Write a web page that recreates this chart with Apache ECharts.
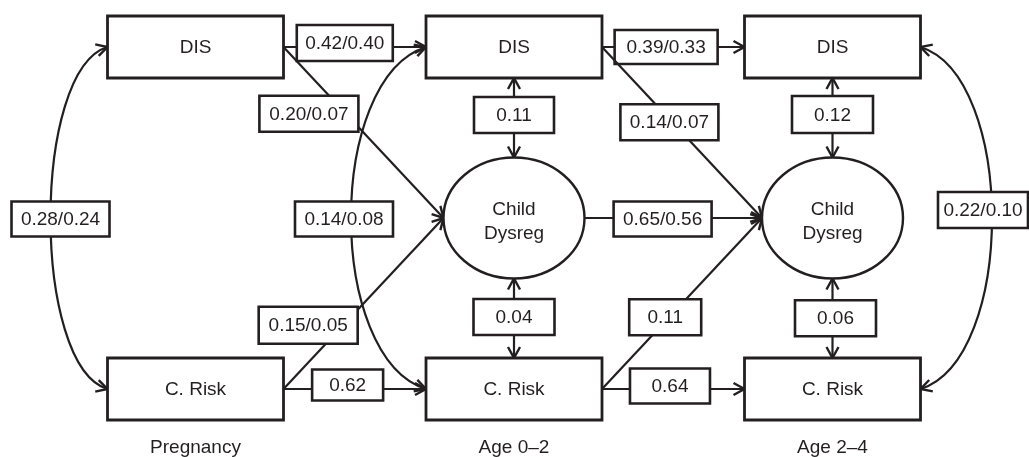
<!DOCTYPE html>
<html><head><meta charset="utf-8">
<script src="https://cdn.jsdelivr.net/npm/echarts@6/dist/echarts.min.js"></script>
<style>html,body{margin:0;padding:0;background:#fff;}#chart{width:1029px;height:457px;}</style>
</head><body><div id="chart"></div>
<script>
// ---------- data ----------
const periods = ['Pregnancy', 'Age 0–2', 'Age 2–4'];
const constructs = ['DIS', 'Child Dysreg', 'C. Risk'];
const nodeIds = ['DIS0', 'DIS1', 'DIS2', 'DYS1', 'DYS2', 'CR0', 'CR1', 'CR2'];
const nodePeriod = [0, 1, 2, 1, 2, 0, 1, 2];
const nodeConstruct = [0, 0, 0, 1, 1, 2, 2, 2];
const nodeLabels = ['DIS', 'DIS', 'DIS', 'Child\nDysreg', 'Child\nDysreg', 'C. Risk', 'C. Risk', 'C. Risk'];
// directed (cross-lagged / stability) paths
const pathFrom = ['DIS0', 'DIS0', 'CR0', 'CR0', 'DIS1', 'DIS1', 'DYS1', 'CR1', 'CR1'];
const pathTo = ['DIS1', 'DYS1', 'DYS1', 'CR1', 'DIS2', 'DYS2', 'DYS2', 'DYS2', 'CR2'];
const pathCoef = ['0.42/0.40', '0.20/0.07', '0.15/0.05', '0.62', '0.39/0.33', '0.14/0.07', '0.65/0.56', '0.11', '0.64'];
// within-time covariances (double-headed)
const covFrom = ['DIS1', 'DYS1', 'DIS2', 'DYS2', 'DIS0', 'DIS1', 'DIS2'];
const covTo = ['DYS1', 'CR1', 'DYS2', 'CR2', 'CR0', 'CR1', 'CR2'];
const covCoef = ['0.11', '0.04', '0.12', '0.06', '0.28/0.24', '0.14/0.08', '0.22/0.10'];

// ---------- layout / style (not data) ----------
const INK = '#231f20';
const FONT = '"Liberation Sans", Arial, sans-serif';
const BOX_W = 176, BOX_H = 62, ELL_RX = 70.5, ELL_RY = 60.5;
const pathLabelT = [0.43, 0.39, 0.373, 0.45, 0.45, 0.44, 0.44, 0.42, 0.477];
const pathLabelDx = [0, -37, -35, 0, 0, -3, 0, -4, 0];
const pathLabelDy = [-4, 0, 0, -4, 0, 0, 1, 0, -3];
const pathLabelW = [96, 99, 99, 71, 103, 98, 98, 72, 80];
const pathLabelH = [36, 36, 37, 31, 34, 36, 35, 36, 35];
const covLabelT = [0.465, 0.485, 0.46, 0.5, 0.5, 0.5, 0.5];
const covLabelDx = [0, 0, 0, 3, 10, -7, -9];
const covLabelDy = [0, 0, 0, 0, 1, 1, -8];
const covLabelW = [80, 81, 81, 81, 98, 98, 90];
const covLabelH = [36, 36, 37, 36, 35, 35, 36];
const arcBulge = [0, 0, 0, 0, 57, 75, 71.5];
const arcTangent = [0, 0, 0, 0, 23, 32, 30];

function nodeInfo(id) { const i = nodeIds.indexOf(id); return { p: nodePeriod[i], c: nodeConstruct[i] }; }
function anchor(pt, construct, side) {
  const ell = construct === 1;
  const hw = ell ? ELL_RX : BOX_W / 2, hh = ell ? ELL_RY : BOX_H / 2;
  if (side === 'left') return [pt[0] - hw, pt[1]];
  if (side === 'right') return [pt[0] + hw, pt[1]];
  if (side === 'top') return [pt[0], pt[1] - hh];
  return [pt[0], pt[1] + hh];
}
function arrowHead(tip, dir) {
  const len = Math.hypot(dir[0], dir[1]);
  const ux = dir[0] / len, uy = dir[1] / len;
  const L = 11, W = 6;
  return {
    type: 'polyline',
    shape: { points: [[tip[0] - ux * L - uy * W, tip[1] - uy * L + ux * W], tip, [tip[0] - ux * L + uy * W, tip[1] - uy * L - ux * W]] },
    style: { stroke: INK, lineWidth: 2.4, fill: null, lineJoin: 'miter' }
  };
}
function labelBox(cx, cy, w, h, text) {
  return [
    { type: 'rect', shape: { x: cx - w / 2, y: cy - h / 2, width: w, height: h },
      style: { fill: '#fff', stroke: INK, lineWidth: 2.6 } },
    { type: 'text', x: cx, y: cy + 1,
      style: { text: text, align: 'center', verticalAlign: 'middle', fontSize: 19, fontFamily: FONT, fill: INK } }
  ];
}

const nodeData = nodeIds.map((id, i) => [nodePeriod[i], nodeConstruct[i], i]);
const pathData = pathFrom.map((f, i) => { const a = nodeInfo(f), b = nodeInfo(pathTo[i]); return [a.p, a.c, b.p, b.c, i]; });
const covData = covFrom.map((f, i) => { const a = nodeInfo(f), b = nodeInfo(covTo[i]); return [a.p, a.c, b.p, b.c, i]; });

function renderNode(params, api) {
  const i = api.value(2);
  const c = api.coord([api.value(0), api.value(1)]);
  const ell = api.value(1) === 1;
  const shape = ell
    ? { type: 'ellipse', shape: { cx: c[0], cy: c[1], rx: ELL_RX, ry: ELL_RY }, style: { fill: '#fff', stroke: INK, lineWidth: 2.4 } }
    : { type: 'rect', shape: { x: c[0] - BOX_W / 2, y: c[1] - BOX_H / 2, width: BOX_W, height: BOX_H }, style: { fill: '#fff', stroke: INK, lineWidth: 2.8 } };
  return { type: 'group', children: [shape, {
    type: 'text', x: c[0], y: c[1] + (ell ? 4 : 1),
    style: { text: nodeLabels[i], align: 'center', verticalAlign: 'middle', fontSize: 19, lineHeight: 24, fontFamily: FONT, fill: INK }
  }] };
}

function renderPath(params, api) {
  const i = api.value(4);
  const s = api.coord([api.value(0), api.value(1)]);
  const t = api.coord([api.value(2), api.value(3)]);
  const p0 = anchor(s, api.value(1), 'right');
  const p1 = anchor(t, api.value(3), 'left');
  const T = pathLabelT[i];
  const lx = p0[0] + (p1[0] - p0[0]) * T + pathLabelDx[i];
  const ly = p0[1] + (p1[1] - p0[1]) * T + pathLabelDy[i];
  return { type: 'group', children: [
    { type: 'line', shape: { x1: p0[0], y1: p0[1], x2: p1[0], y2: p1[1] }, style: { stroke: INK, lineWidth: 2.2 } },
    arrowHead(p1, [p1[0] - p0[0], p1[1] - p0[1]])
  ].concat(labelBox(lx, ly, pathLabelW[i], pathLabelH[i], pathCoef[i])) };
}

function renderCov(params, api) {
  const i = api.value(4);
  const sc = api.value(1), tc = api.value(3), per = api.value(0);
  const s = api.coord([per, sc]);
  const t = api.coord([api.value(2), tc]);
  const children = [];
  let lx, ly;
  if (Math.abs(tc - sc) === 1) {
    const p0 = anchor(s, sc, 'bottom'), p1 = anchor(t, tc, 'top');
    children.push({ type: 'line', shape: { x1: p0[0], y1: p0[1], x2: p1[0], y2: p1[1] }, style: { stroke: INK, lineWidth: 2.2 } });
    children.push(arrowHead(p1, [0, 1]), arrowHead(p0, [0, -1]));
    lx = p0[0] + (p1[0] - p0[0]) * covLabelT[i];
    ly = p0[1] + (p1[1] - p0[1]) * covLabelT[i];
  } else {
    const side = per === periods.length - 1 ? 'right' : 'left';
    const sg = side === 'right' ? 1 : -1;
    const p0 = anchor(s, sc, side), p3 = anchor(t, tc, side);
    const k = arcBulge[i] / 0.75, d = arcTangent[i];
    const c1 = [p0[0] + sg * k, p0[1] + d], c2 = [p3[0] + sg * k, p3[1] - d];
    children.push({ type: 'bezierCurve', shape: { x1: p0[0], y1: p0[1], x2: p3[0], y2: p3[1], cpx1: c1[0], cpy1: c1[1], cpx2: c2[0], cpy2: c2[1] },
      style: { stroke: INK, lineWidth: 2.2, fill: null } });
    children.push(arrowHead(p0, [p0[0] - c1[0], p0[1] - c1[1]]), arrowHead(p3, [p3[0] - c2[0], p3[1] - c2[1]]));
    lx = p0[0] + sg * arcBulge[i];
    ly = (p0[1] + p3[1]) / 2;
  }
  return { type: 'group', children: children.concat(labelBox(lx + covLabelDx[i], ly + covLabelDy[i], covLabelW[i], covLabelH[i], covCoef[i])) };
}

const chart = echarts.init(document.getElementById('chart'), null, { renderer: 'canvas' });
chart.setOption({
  backgroundColor: '#fff',
  animation: false,
  grid: { left: 195.5, top: 47, width: 637, height: 342 },
  xAxis: {
    type: 'category', data: periods, boundaryGap: false,
    axisLine: { show: false }, axisTick: { show: false }, splitLine: { show: false },
    axisLabel: { margin: 49, fontSize: 19, fontFamily: FONT, color: INK }
  },
  yAxis: { type: 'category', data: constructs, boundaryGap: false, inverse: true, show: false },
  series: [
    { type: 'custom', name: 'paths', data: pathData, renderItem: renderPath, clip: false, z: 2, encode: { x: [0, 2], y: [1, 3] } },
    { type: 'custom', name: 'covariances', data: covData, renderItem: renderCov, clip: false, z: 2, encode: { x: [0, 2], y: [1, 3] } },
    { type: 'custom', name: 'variables', data: nodeData, renderItem: renderNode, clip: false, z: 3, encode: { x: 0, y: 1 } }
  ]
});
</script>
</body></html>
